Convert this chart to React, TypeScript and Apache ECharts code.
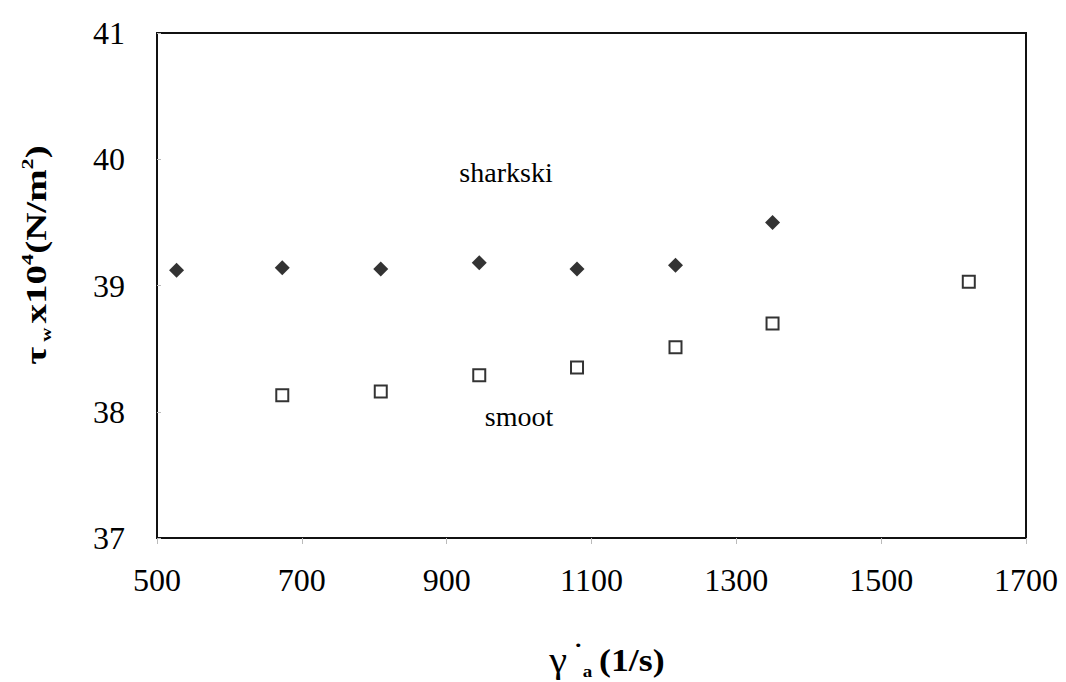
import React, { useEffect, useRef } from "react";
import * as echarts from "echarts";

// Wall shear stress (x10^4 N/m^2) against apparent shear rate (1/s)
const shearRateSharkski = [527, 673, 809, 945, 1080, 1216, 1350];
const stressSharkski = [39.12, 39.14, 39.13, 39.18, 39.13, 39.16, 39.5];
const shearRateSmooth = [673, 809, 945, 1080, 1216, 1350, 1621];
const stressSmooth = [38.13, 38.16, 38.29, 38.35, 38.51, 38.7, 39.03];

const xRange = { min: 500, max: 1700, step: 200 };
const yRange = { min: 37, max: 41, step: 1 };

const seriesNames = ["sharkski", "smoot"];

const FONT = "'Liberation Serif', 'Times New Roman', serif";

function pairs(xs: number[], ys: number[]) {
  return xs.map((x, i) => [x, ys[i]]);
}

export default function App() {
  const ref = useRef<HTMLDivElement>(null);

  useEffect(() => {
    if (!ref.current) return;
    const chart = echarts.init(ref.current, undefined, { renderer: "svg" });

    chart.setOption({
      animation: false,
      backgroundColor: "#ffffff",
      grid: {
        left: 157,
        right: 40,
        top: 33,
        bottom: 144,
        show: true,
        borderColor: "#111",
        borderWidth: 2,
        backgroundColor: "transparent",
      },
      xAxis: {
        type: "value",
        min: xRange.min,
        max: xRange.max,
        interval: xRange.step,
        axisLine: { show: true, lineStyle: { color: "#111", width: 2 } },
        axisTick: { show: true, inside: false, length: 6, lineStyle: { color: "#bbb", width: 1 } },
        splitLine: { show: false },
        axisLabel: {
          color: "#000",
          fontFamily: FONT,
          fontSize: 32,
          margin: 26,
          formatter: (v: number) => String(v),
        },
      },
      yAxis: {
        type: "value",
        min: yRange.min,
        max: yRange.max,
        interval: yRange.step,
        axisLine: { show: true, lineStyle: { color: "#111", width: 2 } },
        axisTick: { show: true, inside: true, length: 4, lineStyle: { color: "#bbb", width: 1 } },
        splitLine: { show: false },
        axisLabel: {
          color: "#000",
          fontFamily: FONT,
          fontSize: 32,
          margin: 32,
          padding: [0, 0, 10, 0],
          formatter: (v: number) => String(v),
        },
      },
      series: [
        {
          name: seriesNames[0],
          type: "scatter",
          data: pairs(shearRateSharkski, stressSharkski),
          symbol: "diamond",
          symbolSize: 15,
          itemStyle: { color: "#000" },
        },
        {
          name: seriesNames[1],
          type: "scatter",
          data: pairs(shearRateSmooth, stressSmooth),
          symbol: "rect",
          symbolSize: 12,
          itemStyle: { color: "#fff", borderColor: "#000", borderWidth: 2 },
        },
      ],
      graphic: [
        {
          type: "text",
          x: 506,
          y: 172,
          style: {
            text: seriesNames[0],
            fontFamily: FONT,
            fontSize: 28,
            fill: "#000",
            align: "center",
            verticalAlign: "middle",
          },
        },
        {
          type: "text",
          x: 519,
          y: 416,
          style: {
            text: seriesNames[1],
            fontFamily: FONT,
            fontSize: 28,
            fill: "#000",
            align: "center",
            verticalAlign: "middle",
          },
        },
        // y-axis title: tau_w x10^4 (N/m^2)
        {
          type: "text",
          x: 36,
          y: 255,
          rotation: Math.PI / 2,
          scaleX: 1.3,
          style: {
            text: "{t|τ}{w| w} {b|x10}{s|4}{b|(N/m}{s|2}{b|)}",
            align: "center",
            verticalAlign: "middle",
            fill: "#000",
            rich: {
              t: { fontFamily: FONT, fontSize: 30, fontWeight: "bold", lineHeight: 36, verticalAlign: "middle" },
              w: { fontFamily: FONT, fontSize: 15, fontWeight: "bold", lineHeight: 16, verticalAlign: "bottom" },
              b: { fontFamily: FONT, fontSize: 30, fontWeight: "bold", lineHeight: 36, verticalAlign: "middle" },
              s: { fontFamily: FONT, fontSize: 17, fontWeight: "bold", lineHeight: 17, verticalAlign: "top" },
            },
          },
        },
        // x-axis title: gamma-dot_a (1/s)
        {
          type: "text",
          x: 607,
          y: 660,
          scaleX: 1.12,
          style: {
            text: "{g|γ}{d| ˙}{a|a}{sp|  }{b|(1/s)}",
            align: "center",
            verticalAlign: "middle",
            fill: "#000",
            rich: {
              g: { fontFamily: FONT, fontSize: 36, lineHeight: 40, verticalAlign: "middle" },
              d: { fontFamily: FONT, fontSize: 24, fontWeight: "bold", lineHeight: 22, verticalAlign: "top" },
              a: { fontFamily: FONT, fontSize: 17, fontWeight: "bold", lineHeight: 17, verticalAlign: "bottom" },
              sp: { fontFamily: FONT, fontSize: 12, lineHeight: 12 },
              b: { fontFamily: FONT, fontSize: 32, fontWeight: "bold", lineHeight: 40, verticalAlign: "middle" },
            },
          },
        },
      ],
    });

    return () => chart.dispose();
  }, []);

  return (
    <div
      ref={ref}
      style={{ position: "absolute", left: 0, top: 0, width: 1066, height: 682, background: "#fff" }}
    />
  );
}
